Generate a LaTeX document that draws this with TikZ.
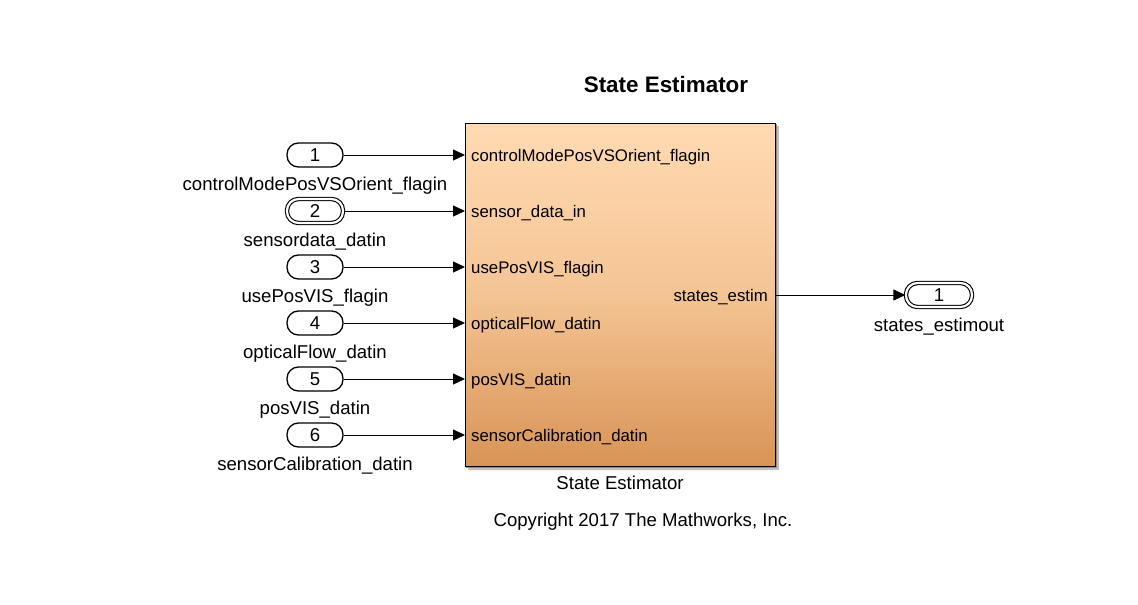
\documentclass[tikz,border=0pt]{standalone}
\usepackage{fontspec}
\setmainfont{Liberation Sans}
\usetikzlibrary{arrows.meta}
\definecolor{blkTop}{RGB}{255,218,178}
\definecolor{blkMid}{RGB}{244,196,148}
\definecolor{blkBot}{RGB}{216,148,86}
\begin{document}
\begin{tikzpicture}[x=1pt,y=-1pt,
  lbl/.style={font=\fontsize{18.6}{22}\selectfont, inner sep=0pt},
  plbl/.style={font=\fontsize{16.8}{20}\selectfont, inner sep=0pt},
  port/.style={draw=black, line width=1.3pt, fill=white, rounded corners=11.5pt, minimum width=56pt, minimum height=24pt, inner sep=0pt, font=\fontsize{18.6}{22}\selectfont},
  busport/.style={port, double=white, double distance=2.2pt, line width=1.1pt},
  sig/.style={line width=0.8pt, -{Triangle[length=12pt,width=11pt]}}]
\useasboundingbox (0,0) rectangle (1138,605);
% block shadow
\fill[black!25] (468,126) rectangle (779,470);
\fill[black!45] (466,124) rectangle (777,468);
% block
\shade[top color=blkTop, bottom color=blkBot, middle color=blkMid] (465,123) rectangle (775,466);
\node[draw=black, line width=1.3pt, minimum width=310pt, minimum height=343pt, inner sep=0pt, anchor=north west] (blk) at (465,123) {};
\node[font=\bfseries\fontsize{22.4}{26}\selectfont, inner sep=0pt] (title) at (666,84) {State Estimator};
\node[lbl] (bname) at (620,483) {State Estimator};
\node[lbl] (copy) at (643,522) {Copyright 2017 The Mathworks, Inc.};
% inports
\foreach \i/\y/\nm/\pn/\st in {1/155/controlModePosVSOrient\_flagin/controlModePosVSOrient\_flagin/port,
                         2/211/sensordata\_datin/sensor\_data\_in/busport,
                         3/267/usePosVIS\_flagin/usePosVIS\_flagin/port,
                         4/323/opticalFlow\_datin/opticalFlow\_datin/port,
                         5/379/posVIS\_datin/posVIS\_datin/port,
                         6/435/sensorCalibration\_datin/sensorCalibration\_datin/port}{
  \node[\st] (in\i) at (315,\y) {\i};
  \node[lbl] (inl\i) at (315,\y+31) {\nm};
  \coordinate (bin\i) at (465,\y);
  \node[plbl, anchor=west] (pl\i) at (471,\y+2) {\pn};
  \draw[sig] (in\i.east) -- (bin\i);
}
% outport
\node[busport, minimum width=66pt] (out1) at (939,295) {1};
\node[lbl] (outl1) at (939,327) {states\_estimout};
\coordinate (bout1) at (775,295);
\node[plbl, anchor=east] (po1) at (768,297) {states\_estim};
\draw[sig] (bout1) -- (out1.west);
\end{tikzpicture}
\end{document}
